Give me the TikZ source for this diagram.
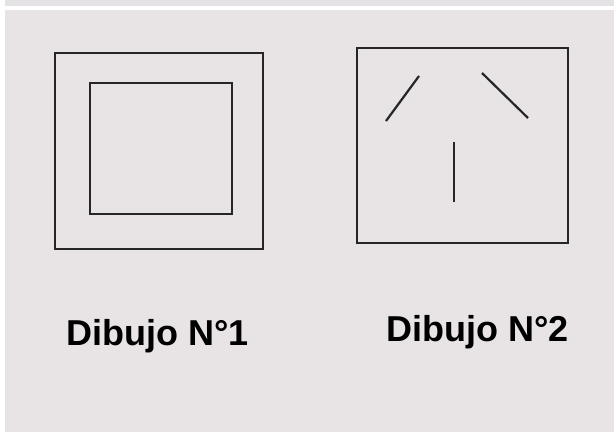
\documentclass[tikz,border=0pt]{standalone}
\usepackage{fontspec}
\setmainfont{Liberation Sans}
\definecolor{fondo}{RGB}{232,227,229}
\definecolor{franja}{RGB}{229,226,229}
\tikzset{
	linea/.style={line width=2.2pt, black!85},
	rotulo/.style={font=\fontsize{36}{40}\selectfont\bfseries, inner sep=0pt, anchor=base west}
}
\begin{document}
\begin{tikzpicture}[x=1pt, y=-1pt]
	% Fondo y franja superior:
	\fill[white] (0, 0) rectangle (614, 432);
	\useasboundingbox (0, 0) rectangle (614, 432);
	\fill[franja] (5, 0) rectangle (614, 6);
	\fill[fondo] (5, 10) rectangle (614, 432);
	% Dibujo 1:
	\draw[linea] (55, 53) rectangle (263, 249);
	\draw[linea] (90, 83) rectangle (232, 214);
	% Dibujo 2:
	\draw[linea] (357, 48) rectangle (568, 243);
	\draw[linea] (386, 121) -- (419, 76);
	\draw[linea] (482, 73) -- (528, 118);
	\draw[linea] (454, 142) -- (454, 202);
	% Rotulos:
	\node[rotulo] (rot1) at (66, 345) {Dibujo N°1};
	\node[rotulo] (rot2) at (386, 341) {Dibujo N°2};
\end{tikzpicture}
\end{document}
